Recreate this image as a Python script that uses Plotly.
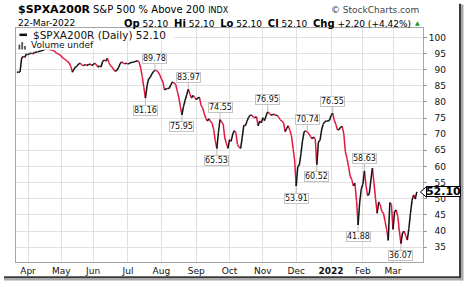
import plotly.graph_objects as go

# S&P 500 % of stocks above 200-day MA ($SPXA200R), daily closes grouped by month
mar21 = [89.2, 89.2, 89.3, 93.6, 94.1, 93.8, 94.9]
apr21 = [94.6, 95.0, 95.1, 94.9, 95.3, 95.4, 95.5, 95.6, 95.8, 95.9, 96.1, 96.4, 96.6, 96.3, 96.2,
         96.0, 95.9, 95.6, 95.1, 94.9, 94.6]
may21 = [94.2, 93.6, 93.3, 92.9, 92.5, 92.0, 91.0, 89.2, 90.2, 90.8, 91.2, 91.8, 92.0, 91.4, 91.2,
         91.6, 91.3, 91.5, 91.8, 91.3]
jun21 = [91.5, 92.0, 91.6, 90.8, 91.2, 90.8, 92.5, 93.0, 92.6, 93.5, 92.2, 91.2, 90.8, 90.0, 89.5,
         89.8, 90.6, 91.8, 92.4, 92.0, 91.8, 92.0]
jul21 = [91.7, 92.0, 92.2, 92.3, 92.4, 92.6, 92.8, 92.4, 90.5, 87.8, 84.5, 81.16, 85.0, 87.1, 87.6,
         88.6, 89.4, 89.78, 89.7, 89.3, 88.4]
aug21 = [87.2, 86.2, 83.7, 84.0, 84.2, 84.2, 85.3, 86.2, 85.8, 85.5, 83.5, 81.5, 78.5, 75.95, 78.6,
         80.5, 82.2, 83.97, 82.5, 81.2, 82.0, 81.4]
sep21 = [80.7, 81.2, 81.5, 79.0, 78.2, 76.5, 75.0, 74.1, 74.8, 74.0, 73.4, 71.5, 68.0, 65.53, 70.6,
         74.55, 73.8, 73.1, 68.8, 67.2, 65.6]
oct21 = [68.3, 67.8, 70.0, 71.1, 70.5, 66.8, 66.0, 65.6, 69.0, 72.8, 72.6, 74.0, 75.2, 75.9, 75.9,
         75.3, 75.1, 75.4, 72.6, 74.1, 73.5]
nov21 = [75.1, 74.2, 75.6, 76.95, 76.5, 75.9, 76.0, 76.2, 75.8, 75.9, 75.2, 74.5, 74.0, 73.6, 70.8,
         71.8, 72.6, 71.2, 69.6, 65.6, 62.0]
dec21 = [53.91, 60.0, 60.5, 64.0, 68.0, 70.8, 71.0, 70.74, 70.1, 69.3, 68.6, 69.1, 68.5, 60.52, 67.6,
         68.1, 71.3, 73.1, 73.8, 74.1, 74.1, 74.3]
jan22 = [75.8, 76.55, 74.3, 73.0, 71.4, 71.4, 72.2, 72.4, 70.0, 64.5, 62.5, 60.0, 57.0, 56.0, 54.0,
         54.8, 49.5, 41.88, 48.9, 53.0]
feb22 = [54.5, 58.63, 54.0, 51.0, 51.5, 55.5, 59.5, 55.0, 50.0, 45.5, 49.0, 48.0, 46.0, 45.5, 43.0,
         40.5, 37.1, 48.8, 48.3]
mar22 = [40.5, 46.0, 46.5, 44.5, 40.0, 36.07, 39.5, 39.9, 38.6, 37.2, 40.8, 45.5, 49.5, 51.2, 49.9,
         52.1]

months = [mar21, apr21, may21, jun21, jul21, aug21, sep21, oct21, nov21, dec21, jan22, feb22, mar22]
month_labels = ["Apr", "May", "Jun", "Jul", "Aug", "Sep", "Oct", "Nov", "Dec", "<b>2022</b>", "Feb", "Mar"]

y_ticks = [35, 40, 45, 50, 55, 60, 65, 70, 75, 80, 85, 90, 95, 100]

# labelled swing points (trading-day index, above/below)
peak_idx = [87, 108, 128, 158, 183, 199, 219]
trough_idx = [81, 104, 126, 176, 189, 215, 242]

header_date = "22-Mar-2022"
header_vals = dict(Op="52.10", Hi="52.10", Lo="52.10", Cl="52.10", Chg="+2.20 (+4.42%)")

values = [v for m in months for v in m]
xs = list(range(len(values)))
starts = []
acc = 0
for m in months:
    starts.append(acc)
    acc += len(m)
tickvals = starts[1:]

# split into rising (black) and falling (red) segments
up_x, up_y, dn_x, dn_y = [], [], [], []
for i in range(1, len(values)):
    if values[i] >= values[i - 1]:
        up_x += [xs[i - 1], xs[i], None]
        up_y += [values[i - 1], values[i], None]
    else:
        dn_x += [xs[i - 1], xs[i], None]
        dn_y += [values[i - 1], values[i], None]

FONT = "DejaVu Sans"
L, R, T, B = 16, 423, 28, 268
W, H = 464, 288


def px(x):
    return (x - L) / (R - L)


def py(y):
    return (B - y) / (B - T)


fig = go.Figure()
fig.add_trace(go.Scatter(x=dn_x, y=dn_y, mode="lines", line=dict(color="#e3173e", width=1.5),
                         hoverinfo="skip"))
fig.add_trace(go.Scatter(x=up_x, y=up_y, mode="lines", line=dict(color="#111111", width=1.5),
                         hoverinfo="skip"))

ann = []
# swing labels
for i in peak_idx + trough_idx:
    above = i in peak_idx
    ann.append(dict(x=xs[i], y=values[i], xref="x", yref="y", text="%.2f" % values[i],
                    showarrow=True, arrowhead=0, arrowwidth=1, arrowcolor="#bdbdbd",
                    ax=0, ay=-12 if above else 12, standoff=0,
                    font=dict(family=FONT, size=8, color="#111"),
                    bgcolor="white", bordercolor="#c4c4c4", borderwidth=1, borderpad=0))

# header
ann.append(dict(x=px(16), y=py(9), xref="paper", yref="paper", xanchor="left", yanchor="middle",
                text="<b>$SPXA200R</b>", showarrow=False, font=dict(family=FONT, size=11, color="#000")))
ann.append(dict(x=px(91), y=py(9.5), xref="paper", yref="paper", xanchor="left", yanchor="middle",
                text="S&P 500 % Above 200 <span style='font-size:8px'>INDX</span>", showarrow=False,
                font=dict(family=FONT, size=10, color="#000")))
ann.append(dict(x=px(421), y=py(9.5), xref="paper", yref="paper", xanchor="right", yanchor="middle",
                text="© StockCharts.com", showarrow=False, font=dict(family=FONT, size=9, color="#444")))
ann.append(dict(x=px(16), y=py(23), xref="paper", yref="paper", xanchor="left", yanchor="middle",
                text=header_date, showarrow=False, font=dict(family=FONT, size=9, color="#000")))
parts = []
for k, v in header_vals.items():
    parts.append("<span style='font-size:10px'><b>%s</b></span> %s" % (k, v))
ann.append(dict(x=px(413), y=py(23), xref="paper", yref="paper", xanchor="right", yanchor="middle",
                text="  ".join(parts), showarrow=False, font=dict(family=FONT, size=9, color="#000")))
ann.append(dict(x=px(417), y=py(22.5), xref="paper", yref="paper", xanchor="center", yanchor="middle",
                text="▲", showarrow=False, font=dict(family=FONT, size=6, color="#1a9a1a")))

# legend text
ann.append(dict(x=px(31), y=py(35), xref="paper", yref="paper", xanchor="left", yanchor="middle",
                text="$SPXA200R (Daily) %.2f" % values[-1], showarrow=False,
                font=dict(family=FONT, size=10.5, color="#111")))
ann.append(dict(x=px(28.5), y=py(45.5), xref="paper", yref="paper", xanchor="left", yanchor="middle",
                text="Volume undef", showarrow=False, font=dict(family=FONT, size=9, color="#111")))

# last value tag (box drawn as annotation so it sits above the tick labels)
ann.append(dict(x=px(443), y=values[-1], xref="paper", yref="y", xanchor="center", yanchor="middle",
                text="<b>%.2f</b>" % values[-1], showarrow=False, width=33, height=9,
                bgcolor="white", bordercolor="#000", borderwidth=1, borderpad=0,
                font=dict(family=FONT, size=11, color="#000")))

unit = (102.9 - 30.4) / (B - T)  # data units per pixel
shapes = [
    # legend backgrounds
    dict(type="rect", xref="paper", yref="paper", x0=px(17), x1=px(174), y0=py(29), y1=py(40.5),
         fillcolor="white", line=dict(width=0), layer="above"),
    dict(type="rect", xref="paper", yref="paper", x0=px(17), x1=px(94), y0=py(40.5), y1=py(50.3),
         fillcolor="white", line=dict(width=0), layer="above"),
    dict(type="line", xref="paper", yref="paper", x0=px(19.5), x1=px(27), y0=py(35), y1=py(35),
         line=dict(color="#111", width=2.5), layer="above"),
    dict(type="rect", xref="paper", yref="paper", x0=px(18.5), x1=px(20.3), y0=py(50), y1=py(45),
         fillcolor="#555", line=dict(width=0), layer="above"),
    dict(type="rect", xref="paper", yref="paper", x0=px(21.3), x1=px(23.1), y0=py(50), y1=py(42.5),
         fillcolor="#555", line=dict(width=0), layer="above"),
    dict(type="rect", xref="paper", yref="paper", x0=px(24.1), x1=px(25.9), y0=py(50), y1=py(46.5),
         fillcolor="#555", line=dict(width=0), layer="above"),
    # value tag pointer
    dict(type="path", xref="paper", yref="y",
         path="M %f,%f L %f,%f L %f,%f Z" % (
             px(420.5), values[-1],
             px(426.5), values[-1] + 5.5 * unit,
             px(426.5), values[-1] - 5.5 * unit),
         fillcolor="white", line=dict(color="#000", width=1)),
    # drop shadow
    dict(type="rect", xref="paper", yref="paper", x0=px(4), x1=px(461), y0=py(282.5), y1=py(284.5),
         fillcolor="#3a3a3a", line=dict(width=0)),
    dict(type="rect", xref="paper", yref="paper", x0=px(4), x1=px(462), y0=py(284.5), y1=py(287),
         fillcolor="#a8a8a8", line=dict(width=0)),
    dict(type="rect", xref="paper", yref="paper", x0=px(459), x1=px(461), y0=py(3), y1=py(284.5),
         fillcolor="#3a3a3a", line=dict(width=0)),
    dict(type="rect", xref="paper", yref="paper", x0=px(461), x1=px(463.5), y0=py(4), y1=py(287),
         fillcolor="#a8a8a8", line=dict(width=0)),
]

fig.update_layout(
    width=W, height=H,
    margin=dict(l=L, r=W - R, t=T, b=H - B),
    paper_bgcolor="white", plot_bgcolor="white",
    showlegend=False,
    font=dict(family=FONT, size=9, color="#111"),
    annotations=ann, shapes=shapes,
    xaxis=dict(range=[-0.56, 255.9], tickvals=tickvals, ticktext=month_labels,
               showgrid=True, gridcolor="#e0e0e0", gridwidth=1, zeroline=False,
               showline=True, mirror=True, linecolor="#a6a6a6", linewidth=1,
               ticks="", tickfont=dict(family=FONT, size=9, color="#111")),
    yaxis=dict(side="right", range=[30.4, 102.9], tickvals=y_ticks,
               ticktext=[("\u2007" + str(v)) if v < 100 else str(v) for v in y_ticks],
               showgrid=True, gridcolor="#e0e0e0", gridwidth=1, zeroline=False,
               showline=True, mirror=True, linecolor="#a6a6a6", linewidth=1,
               ticks="outside", ticklen=3, tickcolor="#999",
               tickfont=dict(family=FONT, size=9, color="#111")),
)

fig.write_html("out.html")
